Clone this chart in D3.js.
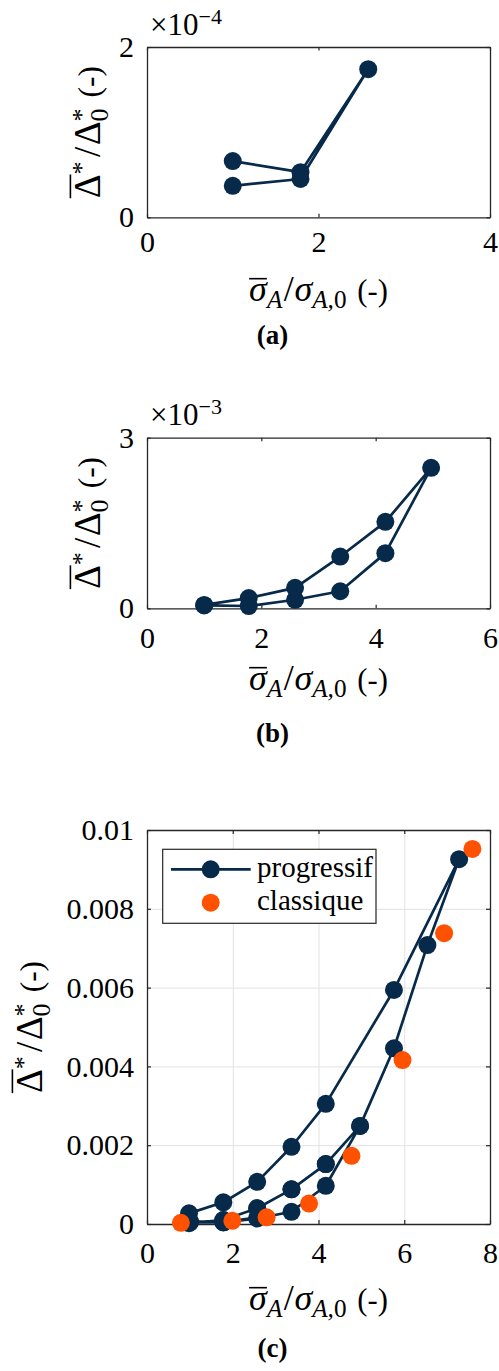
<!DOCTYPE html>
<html><head><meta charset="utf-8">
<script src="https://cdn.jsdelivr.net/npm/d3@7"></script>
<style>
body{margin:0;background:#fff}
svg text, svg tspan { font-family: "Liberation Serif" !important; }
</style>
</head><body>
<svg id="fig" width="499" height="1371"></svg>
<script>
// ---------- DATA ----------
const xTicksA = [0, 2, 4];
const yTicksA = [0, 2e-4];
const yTickLabelsA = ["0", "2"];
const expA = "−4";
const progA_x = [1.0, 1.79, 2.58, 1.79, 1.0];
const progA_y = [0.37e-4, 0.45e-4, 1.74e-4, 0.53e-4, 0.66e-4];

const xTicksB = [0, 2, 4, 6];
const yTicksB = [0, 3e-3];
const yTickLabelsB = ["0", "3"];
const expB = "−3";
const progB_x = [1.0, 1.78, 2.59, 3.38, 4.17, 4.97, 4.17, 3.38, 2.59, 1.78, 1.0];
const progB_y = [0.05e-3, 0.04e-3, 0.15e-3, 0.30e-3, 0.97e-3, 2.47e-3, 1.52e-3, 0.91e-3, 0.36e-3, 0.18e-3, 0.06e-3];

const xTicksC = [0, 2, 4, 6, 8];
const yTicksC = [0, 0.002, 0.004, 0.006, 0.008, 0.01];
const yTickLabelsC = ["0", "0.002", "0.004", "0.006", "0.008", "0.01"];
const progC_x = [1.0, 1.79, 2.58, 1.79, 1.0,
  1.0, 1.78, 2.57, 3.37, 4.17, 4.97, 4.17, 3.37, 2.57, 1.78, 0.98,
  1.78, 2.57, 3.37, 4.17, 4.97, 5.76, 6.54, 7.28, 5.76, 4.17, 3.37, 2.57, 1.78, 0.98];
const progC_y = [0.04e-3, 0.045e-3, 0.17e-3, 0.05e-3, 0.065e-3,
  0.05e-3, 0.04e-3, 0.14e-3, 0.31e-3, 0.97e-3, 2.49e-3, 1.52e-3, 0.88e-3, 0.40e-3, 0.10e-3, 0.02e-3,
  0.10e-3, 0.40e-3, 0.88e-3, 1.52e-3, 2.49e-3, 4.46e-3, 7.08e-3, 9.26e-3, 5.94e-3, 3.05e-3, 1.96e-3, 1.07e-3, 0.55e-3, 0.27e-3];
const classC_x = [0.79, 1.99, 2.79, 3.78, 4.77, 5.96, 6.93, 7.59];
const classC_y = [0.03e-3, 0.08e-3, 0.17e-3, 0.52e-3, 1.73e-3, 4.16e-3, 7.38e-3, 9.52e-3];
const legendLabels = ["progressif", "classique"];
const panelTags = ["(a)", "(b)", "(c)"];

// ---------- STYLE ----------
const FONT = "Liberation Serif";
const NAVY = "#072a4a", ORANGE = "#ff5200", AX = "#262626", GRID = "#e2e2e2";
const L = 147, R = 490, TICKFS = 30, XLABFS = 36, YLABFS = 37, R_MK = 9, LW = 2.7;

const svg = d3.select("#fig");

function txt(sel, size) {
  return sel.attr("font-family", FONT).attr("font-size", size).attr("fill", "#000");
}

function mathText(parent, pieces, size) {
  const grp = parent.append("g");
  let x = 0, lastX = 0;
  pieces.forEach(p => {
    const fs = size * (p.scale || 1);
    const px = p.same ? lastX : x;
    const xx = px + (p.dx || 0) * size;
    const t = txt(grp.append("text"), fs).attr("x", xx).attr("y", (p.dy || 0) * size)
      .attr("font-style", p.italic ? "italic" : "normal").text(p.t);
    const w = t.node().getComputedTextLength();
    if (p.over) {
      grp.append("line").attr("x1", xx).attr("x2", xx + w)
        .attr("y1", -p.over * size).attr("y2", -p.over * size)
        .attr("stroke", "#000").attr("stroke-width", 1.6);
    }
    lastX = px;
    x = Math.max(x, xx + w);
  });
  return { g: grp, w: x };
}

const xLabPieces = [
  { t: "σ", italic: true, over: 0.62 },
  { t: "A", italic: true, scale: 0.7, dy: 0.2 },
  { t: "/", dx: 0.04 },
  { t: "σ", italic: true, dx: 0.02 },
  { t: "A,", italic: true, scale: 0.7, dy: 0.2 },
  { t: "0", scale: 0.7, dy: 0.2 },
  { t: "(-)", dx: 0.3, scale: 0.85 }
];
const yLabPieces = [
  { t: "Δ", over: 0.8 },
  { t: "*", scale: 0.7, dy: -0.26 },
  { t: "/", dx: 0.12 },
  { t: "Δ", dx: 0.04 },
  { t: "*", scale: 0.7, dy: -0.26 },
  { t: "0", scale: 0.7, dy: 0.22, same: true },
  { t: "(-)", dx: 0.3, scale: 0.85 }
];

const panels = [
  { top: 47, bottom: 217.3, xd: [0, 4], yd: [0, 2e-4], xt: xTicksA, yt: yTicksA, ytl: yTickLabelsA, exp: expA,
    expBase: 34.5, tickBase: 252, xlabBase: 301, tagBase: 344, ylabX: 100, grid: false,
    prog: d3.zip(progA_x, progA_y), cls: null, tl: 3.5 },
  { top: 437.7, bottom: 608.3, xd: [0, 6], yd: [0, 3e-3], xt: xTicksB, yt: yTicksB, ytl: yTickLabelsB, exp: expB,
    expBase: 425, tickBase: 648, xlabBase: 690, tagBase: 742, ylabX: 100, grid: false,
    prog: d3.zip(progB_x, progB_y), cls: null, tl: 3.5 },
  { top: 830, bottom: 1224, xd: [0, 8], yd: [0, 0.01], xt: xTicksC, yt: yTicksC, ytl: yTickLabelsC, exp: null,
    tickBase: 1263, xlabBase: 1310, tagBase: 1357, ylabX: 42, grid: true,
    prog: d3.zip(progC_x, progC_y), cls: d3.zip(classC_x, classC_y), tl: 4 }
];

panels.forEach((P, i) => {
  const x = d3.scaleLinear().domain(P.xd).range([L, R]);
  const y = d3.scaleLinear().domain(P.yd).range([P.bottom, P.top]);
  const g = svg.append("g");
  const H = P.bottom - P.top;

  if (P.grid) {
    g.append("g").attr("transform", `translate(0,${P.bottom})`)
      .call(d3.axisBottom(x).tickValues(P.xt).tickSize(-H).tickFormat(""))
      .call(s => { s.select(".domain").remove(); s.selectAll("line").attr("stroke", GRID).attr("stroke-width", 1); });
    g.append("g").attr("transform", `translate(${L},0)`)
      .call(d3.axisLeft(y).tickValues(P.yt).tickSize(-(R - L)).tickFormat(""))
      .call(s => { s.select(".domain").remove(); s.selectAll("line").attr("stroke", GRID).attr("stroke-width", 1); });
  }

  const styleAx = s => {
    s.attr("font-family", FONT).attr("font-size", TICKFS);
    s.select(".domain").attr("stroke", AX).attr("stroke-width", 1.3);
    s.selectAll(".tick line").attr("stroke", AX).attr("stroke-width", 1.2);
    s.selectAll("text").call(t => txt(t, TICKFS));
  };
  const pad = (P.tickBase - P.bottom) - 0.71 * TICKFS;
  g.append("g").attr("transform", `translate(0,${P.bottom})`)
    .call(d3.axisBottom(x).tickValues(P.xt).tickSizeInner(-P.tl).tickSizeOuter(0).tickPadding(pad).tickFormat(d3.format("d")))
    .call(styleAx);
  g.append("g").attr("transform", `translate(0,${P.top})`)
    .call(d3.axisTop(x).tickValues(P.xt).tickSizeInner(-P.tl).tickSizeOuter(0).tickFormat(""))
    .call(styleAx);
  g.append("g").attr("transform", `translate(${L},0)`)
    .call(d3.axisLeft(y).tickValues(P.yt).tickSizeInner(-P.tl).tickSizeOuter(0).tickPadding(13)
      .tickFormat((d, k) => P.ytl[k]))
    .call(styleAx);
  g.append("g").attr("transform", `translate(${R},0)`)
    .call(d3.axisRight(y).tickValues(P.yt).tickSizeInner(-P.tl).tickSizeOuter(0).tickFormat(""))
    .call(styleAx);

  if (P.exp) {
    const t = txt(g.append("text"), 31).attr("x", 150).attr("y", P.expBase);
    t.append("tspan").text("×10");
    t.append("tspan").attr("font-size", 22).attr("dy", -11).text(P.exp);
  }

  const line = d3.line().x(d => x(d[0])).y(d => y(d[1]));
  g.append("path").datum(P.prog).attr("d", line).attr("fill", "none")
    .attr("stroke", NAVY).attr("stroke-width", LW).attr("stroke-linejoin", "round");
  g.append("g").selectAll("circle").data(P.prog).join("circle")
    .attr("cx", d => x(d[0])).attr("cy", d => y(d[1])).attr("r", R_MK).attr("fill", NAVY);
  if (P.cls) {
    g.append("g").selectAll("circle").data(P.cls).join("circle")
      .attr("cx", d => x(d[0])).attr("cy", d => y(d[1])).attr("r", R_MK).attr("fill", ORANGE);
  }

  const xl = mathText(g, xLabPieces, XLABFS);
  xl.g.attr("transform", `translate(${(L + R) / 2 - xl.w / 2},${P.xlabBase})`);
  const yl = mathText(g, yLabPieces, YLABFS);
  yl.g.attr("transform", `translate(${P.ylabX},${(P.top + P.bottom) / 2}) rotate(-90) translate(${-yl.w / 2},0)`);
  txt(g.append("text"), 27).attr("x", 272.5).attr("y", P.tagBase).attr("text-anchor", "middle")
    .attr("font-weight", "bold").text(panelTags[i]);

  if (P.cls) {
    const lg = g.append("g");
    lg.append("rect").attr("x", 162.7).attr("y", 849.3).attr("width", 213.3).attr("height", 74)
      .attr("fill", "#fff").attr("stroke", AX).attr("stroke-width", 1.2);
    lg.append("line").attr("x1", 171).attr("x2", 250.7).attr("y1", 869.3).attr("y2", 869.3)
      .attr("stroke", NAVY).attr("stroke-width", LW);
    lg.append("circle").attr("cx", 210.7).attr("cy", 869.3).attr("r", R_MK).attr("fill", NAVY);
    lg.append("circle").attr("cx", 210.7).attr("cy", 902.7).attr("r", R_MK).attr("fill", ORANGE);
    txt(lg.append("text"), 29).attr("x", 257).attr("y", 877).text(legendLabels[0]);
    txt(lg.append("text"), 29).attr("x", 257).attr("y", 910).text(legendLabels[1]);
  }
});
</script>
</body></html>
